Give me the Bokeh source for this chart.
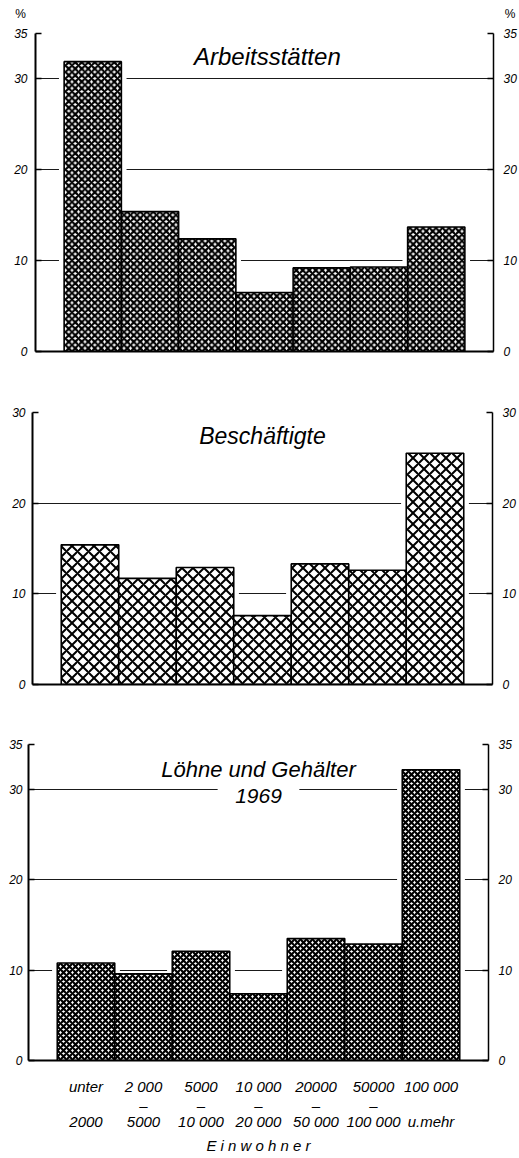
from bokeh.plotting import figure
from bokeh.models import Range1d, LinearAxis, FixedTicker, Label
from bokeh.embed import file_html
from bokeh.resources import INLINE

# ---- data ----
groups = ["unter 2000", "2000-5000", "5000-10000", "10000-20000",
          "20000-50000", "50000-100000", "100000 u.mehr"]
label_row1 = ["unter", "2 000", "5000", "10 000", "20000", "50000", "100 000"]
label_dash = ["", "–", "–", "–", "–", "–", ""]
label_row2 = ["2000", "5000", "10 000", "20 000", "50 000", "100 000", "u.mehr"]
axis_title = "E i n w o h n e r"

arbeitsstaetten = [31.9, 15.4, 12.4, 6.5, 9.2, 9.3, 13.7]
beschaeftigte = [15.4, 11.7, 12.9, 7.6, 13.3, 12.6, 25.5]
loehne = [10.8, 9.6, 12.1, 7.4, 13.5, 12.9, 32.2]

ticks_35 = [0, 10, 20, 30, 35]
ticks_30 = [0, 10, 20, 30]
grid_ticks = [10, 20, 30]

FONT = "Liberation Sans"
NB = "\u00a0"
xs = list(range(len(groups)))


def panel(values, ymax, yticks, width, height, bl, br, bt, bb, hatch_scale, hatch_weight, lstand):
    p = figure(width=width, height=height, output_backend="svg", toolbar_location=None,
               x_range=Range1d(-1, len(groups)), y_range=Range1d(0, ymax),
               min_border_left=bl, min_border_right=br, min_border_top=bt, min_border_bottom=bb)
    p.outline_line_color = None
    p.background_fill_color = "white"
    p.border_fill_color = "white"
    p.xgrid.visible = False
    p.ygrid.ticker = FixedTicker(ticks=grid_ticks)
    p.ygrid.grid_line_color = "#1a1a1a"
    p.ygrid.grid_line_width = 1

    ya = p.yaxis[0]
    ya.ticker = FixedTicker(ticks=yticks)
    ya.axis_line_width = 2
    ya.axis_line_color = "black"
    ya.major_tick_in = 6
    ya.major_tick_out = 0
    ya.major_tick_line_width = 1.5
    ya.minor_tick_line_color = None
    ya.major_label_standoff = lstand
    ya.major_label_text_font = FONT
    ya.major_label_text_font_style = "italic"
    ya.major_label_text_font_size = "12px"
    ya.major_label_text_color = "black"

    ra = LinearAxis(ticker=FixedTicker(ticks=yticks))
    ra.axis_line_width = 1.5
    ra.axis_line_color = "black"
    ra.major_tick_in = 6
    ra.major_tick_out = 0
    ra.major_tick_line_width = 1.5
    ra.minor_tick_line_color = None
    ra.major_label_standoff = 10
    ra.major_label_text_font = FONT
    ra.major_label_text_font_style = "italic"
    ra.major_label_text_font_size = "12px"
    ra.major_label_text_color = "black"
    p.add_layout(ra, "right")

    xa = p.xaxis[0]
    xa.axis_line_width = 2
    xa.axis_line_color = "black"
    xa.major_tick_line_color = None
    xa.minor_tick_line_color = None

    p.vbar(x=xs, top=values, width=1.18, bottom=0, fill_color="white", line_color=None)
    p.vbar(x=xs, top=values, width=1, bottom=0, fill_color="white",
           line_color="black", line_width=1.6,
           hatch_pattern="diagonal_cross", hatch_color="black",
           hatch_scale=hatch_scale, hatch_weight=hatch_weight)
    return p


def title_label(p, x, y, txt, size="23px", bg=False):
    lab = Label(x=x, y=y, text=txt, text_font=FONT, text_font_style="italic",
                text_font_size=size, text_align="center", text_baseline="middle",
                text_color="black")
    if bg:
        lab.background_fill_color = "white"
    p.add_layout(lab)


# ---- panel 1 ----
p1 = panel(arbeitsstaetten, 35, ticks_35, 519, 375, 35, 25, 33, 24, 6.5, 2.2, 8)
p1.xaxis[0].ticker = FixedTicker(ticks=[])
title_label(p1, 3.05, 32.45, "Arbeitsstätten", "24px")
pct = LinearAxis(ticker=FixedTicker(ticks=[-0.999, 6.999]),
                 major_label_overrides={-0.999: "%" + NB * 9, 6.999: NB * 10 + "%"})
pct.axis_line_color = None
pct.major_tick_line_color = None
pct.minor_tick_line_color = None
pct.major_label_standoff = 7
pct.major_label_text_font = FONT
pct.major_label_text_font_size = "12px"
pct.major_label_text_color = "black"
p1.add_layout(pct, "above")

# ---- panel 2 ----
p2 = panel(beschaeftigte, 30, ticks_30, 519, 330, 32, 27, 37, 21, 11, 2.0, 7)
p2.xaxis[0].ticker = FixedTicker(ticks=[])
title_label(p2, 3.0, 27.4, "Beschäftigte", "23px")

# ---- panel 3 ----
p3 = panel(loehne, 35, ticks_35, 519, 451, 28, 31, 39, 95, 6, 2.2, 6)
title_label(p3, 3.0, 32.27, "Löhne und Gehälter", "22px")
title_label(p3, 3.0, 29.3, NB * 3 + "1969" + NB * 3, "21px", bg=True)


def style_cat_axis(ax, labels, standoff):
    ax.ticker = FixedTicker(ticks=xs)
    ax.major_label_overrides = {i: labels[i] for i in xs}
    ax.major_tick_line_color = None
    ax.minor_tick_line_color = None
    ax.major_label_standoff = standoff
    ax.major_label_text_font = FONT
    ax.major_label_text_font_style = "italic"
    ax.major_label_text_font_size = "15px"
    ax.major_label_text_color = "black"


style_cat_axis(p3.xaxis[0], label_row1, 11)
ax2 = LinearAxis(axis_line_color=None)
style_cat_axis(ax2, label_dash, -7)
p3.add_layout(ax2, "below")
ax3 = LinearAxis(axis_line_color=None)
style_cat_axis(ax3, label_row2, -10)
ax3.axis_label = axis_title
ax3.axis_label_standoff = 4
ax3.axis_label_text_font = FONT
ax3.axis_label_text_font_style = "italic"
ax3.axis_label_text_font_size = "15px"
ax3.axis_label_text_color = "black"
p3.add_layout(ax3, "below")

open("out.html", "w").write(file_html([p1, p2, p3], INLINE))
